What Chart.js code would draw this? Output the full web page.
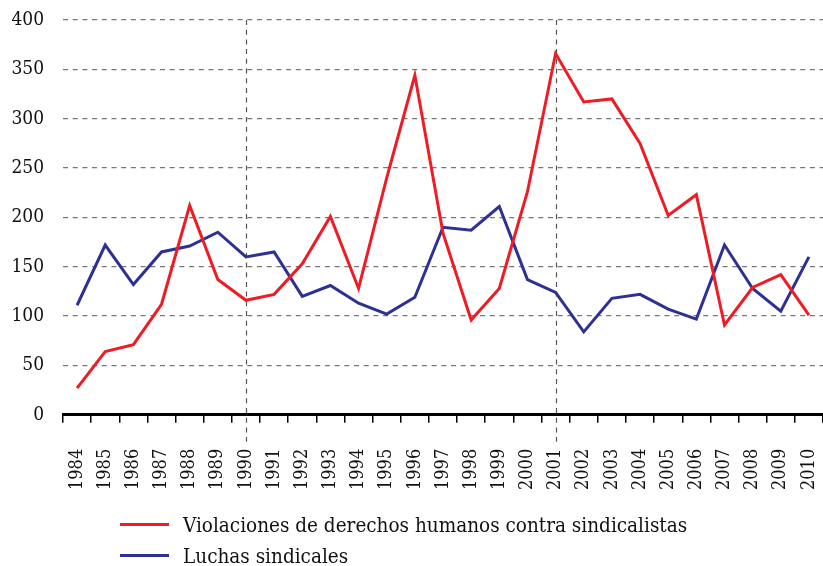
<!DOCTYPE html>
<html>
<head>
<meta charset="utf-8">
<script src="https://cdn.jsdelivr.net/npm/chart.js@4.4.0/dist/chart.umd.min.js"></script>
<style>
  body { margin: 0; background: #fff; overflow: hidden; font-family: "DejaVu Serif Condensed", "DejaVu Serif", serif; }
  #wrap { position: relative; width: 823px; height: 566px; overflow: hidden; }
  #canvasBox { position: absolute; left: 0; top: 0; }
  #legend { position: absolute; left: 120px; top: 509px; font-size: 20.5px; color: #111; }
  .item { display: flex; align-items: center; height: 31px; }
  .swatch { width: 49px; height: 3px; margin-right: 14px; }
</style>
</head>
<body>
<div id="wrap">
  <div id="canvasBox"><canvas id="chart" width="823" height="516"></canvas></div>
  <div id="legend"></div>
</div>
<script>
const years = ['1984','1985','1986','1987','1988','1989','1990','1991','1992','1993','1994','1995','1996','1997','1998','1999','2000','2001','2002','2003','2004','2005','2006','2007','2008','2009','2010'];
const violaciones = [27, 64, 71, 112, 212, 137, 116, 122, 153, 201, 128, 240, 344, 184, 96, 128, 226, 366, 317, 320, 275, 202, 223, 91, 129, 142, 101];
const luchas = [111, 172, 132, 165, 171, 185, 160, 165, 120, 131, 113, 102, 119, 190, 187, 211, 137, 124, 84, 118, 122, 107, 97, 172, 128, 105, 160];
const markedYears = ['1990', '2001'];

const seriesNames = ['Violaciones de derechos humanos contra sindicalistas', 'Luchas sindicales'];
const seriesColors = ['#ee1c25', '#2e3192'];
const fontFamily = '"DejaVu Serif Condensed", "DejaVu Serif", serif';

// dashed vertical lines at the marked years
const markerLines = {
  id: 'markerLines',
  beforeDatasetsDraw(chart) {
    const ctx = chart.ctx;
    const x = chart.scales.x;
    const area = chart.chartArea;
    ctx.save();
    ctx.strokeStyle = '#555';
    ctx.lineWidth = 1.2;
    ctx.setLineDash([5, 4.7]);
    markedYears.forEach(y => {
      const px = Math.round(x.getPixelForValue(years.indexOf(y))) + 0.5;
      ctx.beginPath();
      ctx.moveTo(px, area.top);
      ctx.lineTo(px, area.bottom + 27);
      ctx.stroke();
    });
    ctx.restore();
  }
};

new Chart(document.getElementById('chart'), {
  type: 'line',
  data: {
    labels: years,
    datasets: [
      { label: seriesNames[0], data: violaciones, borderColor: seriesColors[0], borderWidth: 3, pointRadius: 0, tension: 0 },
      { label: seriesNames[1], data: luchas, borderColor: seriesColors[1], borderWidth: 3, pointRadius: 0, tension: 0 }
    ]
  },
  options: {
    responsive: false,
    animation: false,
    layout: { padding: { top: 20, right: 0, left: 0, bottom: 0 } },
    plugins: { legend: { display: false }, tooltip: { enabled: false } },
    scales: {
      x: {
        offset: true,
        afterFit: s => { s.paddingLeft = 0; s.paddingRight = 0; },
        grid: { offset: true, drawOnChartArea: false, drawTicks: true, tickLength: 8, color: '#000', lineWidth: 1.5 },
        border: { display: true, color: '#000', width: 3 },
        ticks: { minRotation: 90, maxRotation: 90, padding: 26, color: '#111', font: { family: fontFamily, size: 18 } }
      },
      y: {
        min: 0, max: 400,
        afterFit: s => { s.width = 63; s.paddingTop = 0; s.paddingBottom = 0; },
        ticks: { stepSize: 50, padding: 19, color: '#111', font: { family: fontFamily, size: 19 } },
        grid: { drawTicks: false, color: ctx => ctx.tick.value === 0 ? 'rgba(0,0,0,0)' : '#777', lineWidth: 1.3 },
        border: { display: false, dash: [5, 4.7] }
      }
    }
  },
  plugins: [markerLines]
});

const legend = document.getElementById('legend');
seriesNames.forEach((name, i) => {
  const row = document.createElement('div');
  row.className = 'item';
  row.innerHTML = '<span class="swatch" style="background:' + seriesColors[i] + '"></span><span>' + name + '</span>';
  legend.appendChild(row);
});
</script>
</body>
</html>
